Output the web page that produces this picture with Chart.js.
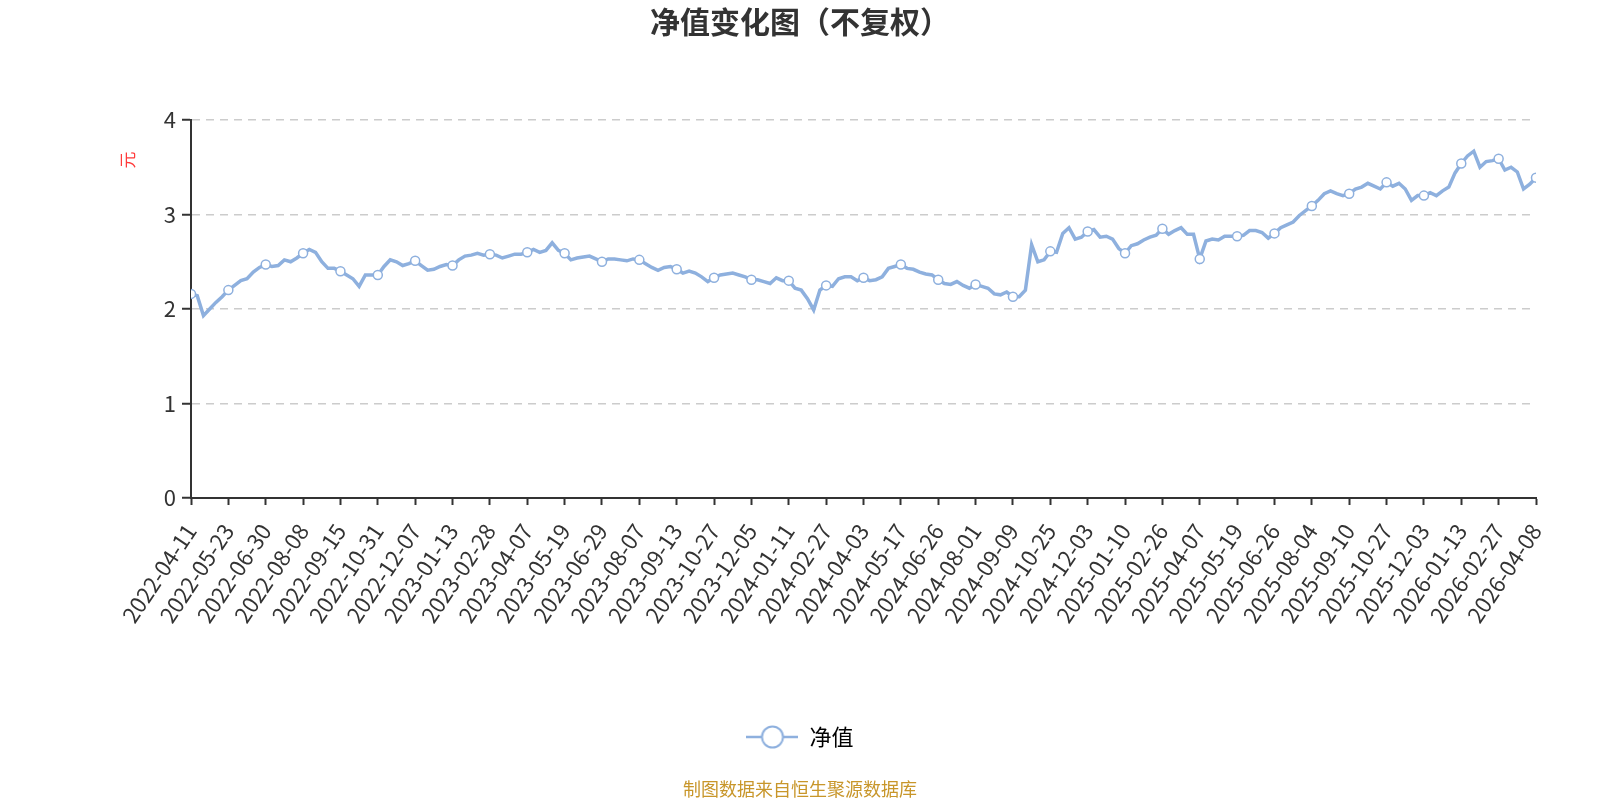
<!DOCTYPE html>
<html lang="zh">
  <head>
    <meta charset="UTF-8" />
    <title>净值变化图</title>
    <script src="https://cdn.jsdelivr.net/npm/chart.js@4.4.1/dist/chart.umd.min.js"></script>
    <style>
      html, body { margin: 0; padding: 0; background: #fff; }
      .chart-view { width: 1600px; height: 800px; }
    </style>
  </head>
  <body>
    <div class="chart-view">
      <canvas id="chart" width="1600" height="800"></canvas>
    </div>

    <script>
      //data
      const TITLE = '净值变化图（不复权）';
      const SERIES_NAME = '净值';
      const Y_UNIT = '元';
      const SOURCE_NOTE = '制图数据来自恒生聚源数据库';
      const SAMPLES_PER_TICK = 6;

      const tickDates = [
        '2022-04-11', '2022-05-23', '2022-06-30', '2022-08-08', '2022-09-15', '2022-10-31', '2022-12-07',
        '2023-01-13', '2023-02-28', '2023-04-07', '2023-05-19', '2023-06-29', '2023-08-07', '2023-09-13',
        '2023-10-27', '2023-12-05', '2024-01-11', '2024-02-27', '2024-04-03', '2024-05-17', '2024-06-26',
        '2024-08-01', '2024-09-09', '2024-10-25', '2024-12-03', '2025-01-10', '2025-02-26', '2025-04-07',
        '2025-05-19', '2025-06-26', '2025-08-04', '2025-09-10', '2025-10-27', '2025-12-03', '2026-01-13',
        '2026-02-27', '2026-04-08'
      ];

      const navValues = [
        2.16, 2.14, 1.93, 2.00, 2.07, 2.13, 2.20, 2.25, 2.30, 2.32, 2.39, 2.44,
        2.47, 2.45, 2.46, 2.52, 2.50, 2.54, 2.59, 2.63, 2.60, 2.50, 2.43, 2.43,
        2.40, 2.36, 2.32, 2.24, 2.36, 2.36, 2.36, 2.45, 2.52, 2.50, 2.46, 2.48,
        2.51, 2.46, 2.41, 2.42, 2.45, 2.47, 2.46, 2.52, 2.56, 2.57, 2.59, 2.57,
        2.58, 2.57, 2.54, 2.56, 2.58, 2.58, 2.60, 2.63, 2.60, 2.62, 2.70, 2.62,
        2.59, 2.52, 2.54, 2.55, 2.56, 2.53, 2.50, 2.53, 2.53, 2.52, 2.51, 2.53,
        2.52, 2.48, 2.44, 2.41, 2.44, 2.45, 2.42, 2.38, 2.40, 2.38, 2.34, 2.29,
        2.33, 2.36, 2.37, 2.38, 2.36, 2.34, 2.31, 2.31, 2.29, 2.27, 2.33, 2.30,
        2.30, 2.22, 2.20, 2.11, 1.99, 2.20, 2.25, 2.24, 2.32, 2.34, 2.34, 2.30,
        2.33, 2.30, 2.31, 2.34, 2.43, 2.45, 2.47, 2.43, 2.42, 2.39, 2.37, 2.36,
        2.31, 2.27, 2.26, 2.29, 2.25, 2.22, 2.26, 2.24, 2.22, 2.16, 2.15, 2.18,
        2.13, 2.13, 2.20, 2.68, 2.50, 2.52, 2.61, 2.60, 2.80, 2.86, 2.74, 2.76,
        2.82, 2.84, 2.76, 2.77, 2.74, 2.64, 2.59, 2.67, 2.69, 2.73, 2.76, 2.78,
        2.85, 2.79, 2.83, 2.86, 2.79, 2.79, 2.53, 2.72, 2.74, 2.73, 2.77, 2.77,
        2.77, 2.78, 2.83, 2.83, 2.81, 2.75, 2.80, 2.86, 2.89, 2.92, 2.99, 3.04,
        3.09, 3.15, 3.22, 3.25, 3.22, 3.20, 3.22, 3.27, 3.29, 3.33, 3.30, 3.27,
        3.34, 3.30, 3.33, 3.27, 3.15, 3.20, 3.20, 3.23, 3.20, 3.25, 3.29, 3.44,
        3.54, 3.62, 3.67, 3.50, 3.56, 3.57, 3.59, 3.47, 3.50, 3.45, 3.27, 3.32,
        3.39
      ];

      const LINE_COLOR = '#8eb0de';
      const FONT_FAMILY = "'Noto Sans CJK SC', 'Noto Sans', sans-serif";
      Chart.defaults.font.family = FONT_FAMILY;
      Chart.defaults.color = '#333';

      // legend icon: line with hollow circle
      const legendIcon = document.createElement('canvas');
      legendIcon.width = 52;
      legendIcon.height = 26;
      (function () {
        const c = legendIcon.getContext('2d');
        c.strokeStyle = LINE_COLOR;
        c.lineWidth = 2.5;
        c.beginPath();
        c.moveTo(0, 13);
        c.lineTo(52, 13);
        c.stroke();
        c.beginPath();
        c.arc(26, 13, 10.5, 0, Math.PI * 2);
        c.fillStyle = '#fff';
        c.fill();
        c.lineWidth = 2;
        c.stroke();
      })();

      // unit label and source note
      const extraText = {
        id: 'extraText',
        afterDraw(chart) {
          const { ctx, chartArea } = chart;
          ctx.save();
          ctx.fillStyle = '#ff3b3b';
          ctx.font = '17px ' + FONT_FAMILY;
          ctx.textAlign = 'center';
          ctx.textBaseline = 'middle';
          ctx.translate(chartArea.left - 63, chartArea.top + 40);
          ctx.rotate(-Math.PI / 2);
          ctx.fillText(Y_UNIT, 0, 0);
          ctx.restore();

          ctx.save();
          ctx.fillStyle = '#c8962a';
          ctx.font = '18px ' + FONT_FAMILY;
          ctx.textAlign = 'center';
          ctx.textBaseline = 'middle';
          ctx.fillText(SOURCE_NOTE, chart.width / 2, 789);
          ctx.restore();
        }
      };

      const data = {
        datasets: [
          {
            label: SERIES_NAME,
            data: navValues.map((v, i) => ({ x: i, y: v })),
            borderColor: LINE_COLOR,
            borderWidth: 3.5,
            tension: 0,
            pointRadius: (c) => (c.dataIndex % SAMPLES_PER_TICK === 0 ? 4.5 : 0),
            pointBackgroundColor: '#fff',
            pointBorderColor: LINE_COLOR,
            pointBorderWidth: 1.5,
            pointHoverRadius: 0
          }
        ]
      };

      //config
      const config = {
        type: 'line',
        data: data,
        plugins: [extraText],
        options: {
          responsive: false,
          animation: false,
          devicePixelRatio: 1,
          layout: { padding: { left: 0, right: 0, top: 0, bottom: 42 } },
          plugins: {
            title: {
              display: true,
              text: TITLE,
              color: '#333',
              font: { size: 30, weight: 'bold' },
              padding: { top: 4, bottom: 80 }
            },
            legend: {
              position: 'bottom',
              labels: {
                usePointStyle: true,
                pointStyleWidth: 52,
                boxHeight: 20,
                padding: 10,
                color: '#333',
                font: { size: 22 },
                generateLabels: () => [
                  { text: SERIES_NAME, pointStyle: legendIcon, fillStyle: '#fff', strokeStyle: LINE_COLOR, lineWidth: 0, datasetIndex: 0 }
                ]
              }
            },
            tooltip: { enabled: false }
          },
          scales: {
            x: {
              type: 'linear',
              min: 0,
              max: navValues.length - 1,
              afterFit: (scale) => { scale.height = 218; },
              grid: { drawOnChartArea: false, drawTicks: true, tickLength: 7, tickColor: '#333', tickWidth: 2 },
              border: { color: '#333', width: 2 },
              ticks: {
                stepSize: SAMPLES_PER_TICK,
                autoSkip: false,
                maxRotation: 56,
                minRotation: 56,
                padding: 14,
                color: '#333',
                font: { size: 22 },
                callback: (v) => tickDates[v / SAMPLES_PER_TICK]
              }
            },
            y: {
              min: 0,
              max: 4,
              afterFit: (scale) => { scale.width = 191; },
              grid: { color: '#ccc', lineWidth: 1.5, tickLength: 9, tickColor: '#333', tickWidth: 2 },
              border: { color: '#333', width: 2, dash: [8, 6] },
              ticks: { stepSize: 1, padding: 6, color: '#333', font: { size: 22 } }
            },
            // empty right-hand axis that keeps the plot clear of the right edge
            yRight: {
              position: 'right',
              min: 0,
              max: 4,
              afterFit: (scale) => { scale.width = 64; },
              grid: { display: false },
              border: { display: false },
              ticks: { display: false }
            }
          }
        }
      };

      //init
      const ctx = document.getElementById('chart');
      const chart = new Chart(ctx, config);
    </script>
  </body>
</html>
